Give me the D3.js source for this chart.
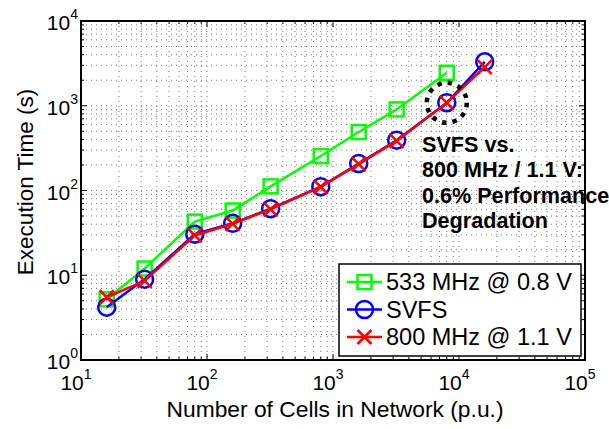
<!DOCTYPE html>
<html><head><meta charset="utf-8">
<script src="https://cdn.jsdelivr.net/npm/d3@7"></script>
<style>body{margin:0;background:#fff}svg{display:block}text{font-family:"Liberation Sans",Arial,sans-serif}</style>
</head><body>
<svg id="c" width="609" height="429"></svg>
<script>
const cells = [16, 32, 80, 160, 320, 800, 1600, 3200, 8000, 16000];
const green533 = [5.2, 12, 43, 58, 112, 255, 490, 905, 2450];
const svfs = [4.2, 9, 30.5, 41, 61, 111, 208, 392, 1085, 3300];
const red800 = [5.5, 8.6, 29.5, 40.5, 60, 110, 205, 385, 1080, 2850];
const seriesNames = ["533 MHz @ 0.8 V", "SVFS", "800 MHz @ 1.1 V"];
const seriesColors = ["#00ff00", "#0000ff", "#ff0000"];
const xTickExps = [1, 2, 3, 4, 5];
const yTickExps = [0, 1, 2, 3, 4];
const annotation = ["SVFS vs.", "800 MHz / 1.1 V:", "0.6% Performance", "Degradation"];
const highlightIndex = 8;

const svg = d3.select("#c");
const L = 81, R = 585, T = 21, B = 360;
const x = d3.scaleLog().domain([10, 1e5]).range([L, R]);
const y = d3.scaleLog().domain([1, 1e4]).range([B, T]);

// grid
const g = svg.append("g");
const xMinor = [], yMinor = [];
for (let e = 1; e < 5; e++) for (let m = 1; m < 10; m++) xMinor.push(m * Math.pow(10, e));
for (let e = 0; e < 4; e++) for (let m = 1; m < 10; m++) yMinor.push(m * Math.pow(10, e));
xMinor.push(1e5); yMinor.push(1e4);
g.selectAll(".gx").data(xMinor.filter(v => v > 10 && v < 1e5)).join("line")
  .attr("x1", d => x(d)).attr("x2", d => x(d)).attr("y1", T).attr("y2", B)
  .attr("stroke", "#777").attr("stroke-width", 1).attr("stroke-dasharray", "1,4");
g.selectAll(".gy").data(yMinor.filter(v => v > 1 && v < 1e4)).join("line")
  .attr("y1", d => y(d)).attr("y2", d => y(d)).attr("x1", L).attr("x2", R)
  .attr("stroke", "#777").attr("stroke-width", 1).attr("stroke-dasharray", "1,4");

// ticks inside, all sides
const isMajor = v => Math.abs(Math.log10(v) - Math.round(Math.log10(v))) < 1e-9;
const tk = svg.append("g").attr("stroke", "#000").attr("stroke-width", 1);
xMinor.forEach(v => {
  const len = isMajor(v) ? 6 : 3;
  tk.append("line").attr("x1", x(v)).attr("x2", x(v)).attr("y1", B).attr("y2", B - len);
  tk.append("line").attr("x1", x(v)).attr("x2", x(v)).attr("y1", T).attr("y2", T + len);
});
yMinor.forEach(v => {
  const len = isMajor(v) ? 6 : 3;
  tk.append("line").attr("y1", y(v)).attr("y2", y(v)).attr("x1", L).attr("x2", L + len);
  tk.append("line").attr("y1", y(v)).attr("y2", y(v)).attr("x1", R).attr("x2", R - len);
});

// tick labels
xTickExps.forEach(e => {
  const t = svg.append("text").attr("x", x(Math.pow(10, e)) - 5).attr("y", 390)
    .attr("text-anchor", "middle").attr("font-size", 21);
  t.append("tspan").text("10");
  t.append("tspan").attr("font-size", 14).attr("dy", -11).text(e);
});
yTickExps.forEach(e => {
  const t = svg.append("text").attr("x", 78).attr("y", y(Math.pow(10, e)) + 9)
    .attr("text-anchor", "end").attr("font-size", 21);
  t.append("tspan").text("10");
  t.append("tspan").attr("font-size", 14).attr("dy", -11).text(e);
});

// axis titles
svg.append("text").attr("x", 335).attr("y", 417).attr("text-anchor", "middle")
  .attr("font-size", 22.8).text("Number of Cells in Network (p.u.)");
svg.append("text").attr("transform", "translate(33,182) rotate(-90)").attr("text-anchor", "middle")
  .attr("font-size", 22.5).text("Execution Time (s)");

// series
const line = d3.line().x(d => x(d[0])).y(d => y(d[1]));
const allSeries = [green533, svfs, red800];
const ds = allSeries.map(s => s.map((v, i) => [cells[i], v]));
function marker(sel, k, cx, cy, size) {
  const c = seriesColors[k];
  if (k === 0) sel.append("rect").attr("x", cx - size).attr("y", cy - size).attr("width", 2 * size).attr("height", 2 * size)
    .attr("fill", "none").attr("stroke", c).attr("stroke-width", 2.5);
  else if (k === 1) sel.append("circle").attr("cx", cx).attr("cy", cy).attr("r", size + 1.5)
    .attr("fill", "none").attr("stroke", c).attr("stroke-width", 2.5);
  else {
    sel.append("path").attr("d", `M${cx - size},${cy - size}L${cx + size},${cy + size}M${cx - size},${cy + size}L${cx + size},${cy - size}`)
      .attr("stroke", c).attr("stroke-width", 2.5).attr("fill", "none");
  }
}
ds.forEach((d, k) => {
  const gg = svg.append("g");
  gg.append("path").datum(d).attr("d", line).attr("fill", "none")
    .attr("stroke", seriesColors[k]).attr("stroke-width", 2.5);
  d.forEach(p => marker(gg, k, x(p[0]), y(p[1]), 7));
});

// highlight circle
svg.append("circle").attr("cx", x(cells[highlightIndex])).attr("cy", y(svfs[highlightIndex]))
  .attr("r", 20).attr("fill", "none").attr("stroke", "#000").attr("stroke-width", 4.5)
  .attr("stroke-dasharray", "4.5,6");

// annotation
annotation.forEach((s, i) => {
  svg.append("text").attr("x", 422).attr("y", 152 + i * 25.3).attr("font-size", 21.6)
    .attr("font-weight", "bold").text(s);
});

// frame
svg.append("rect").attr("x", L).attr("y", T).attr("width", R - L).attr("height", B - T)
  .attr("fill", "none").attr("stroke", "#000").attr("stroke-width", 2);

// legend
const lg = svg.append("g");
lg.append("rect").attr("x", 339).attr("y", 264).attr("width", 242).attr("height", 92)
  .attr("fill", "#fff").attr("stroke", "#000").attr("stroke-width", 1.5);
seriesNames.forEach((n, k) => {
  const cy = 282 + k * 27.5;
  lg.append("line").attr("x1", 347).attr("x2", 382).attr("y1", cy).attr("y2", cy)
    .attr("stroke", seriesColors[k]).attr("stroke-width", 2.5);
  marker(lg, k, 364.5, cy, 7);
  lg.append("text").attr("x", 386).attr("y", cy + 8).attr("font-size", 23.5).text(n);
});
</script>
</body></html>
